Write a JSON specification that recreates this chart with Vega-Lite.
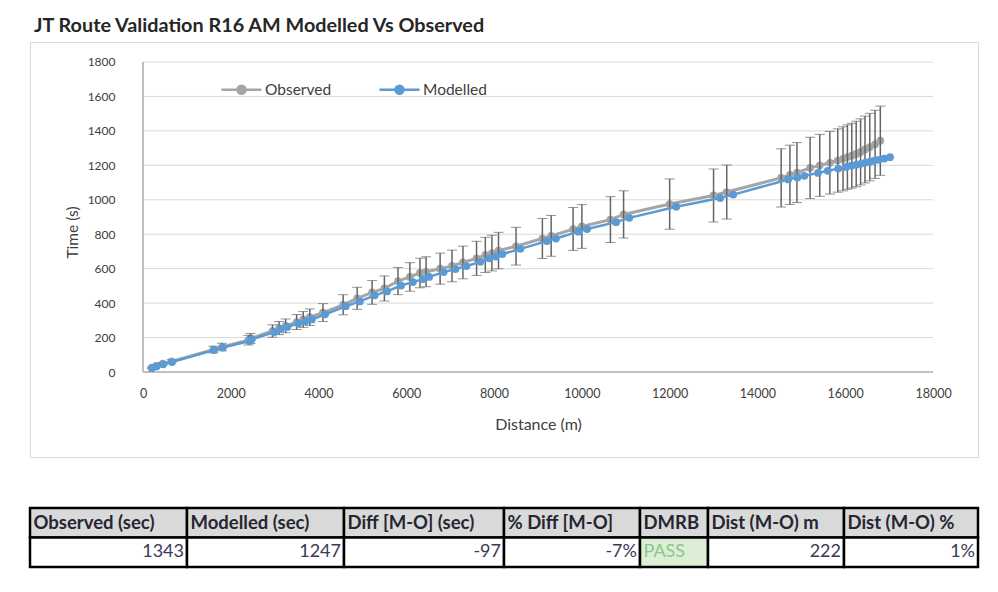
{
  "$schema": "https://vega.github.io/schema/vega-lite/v6.json",
  "padding": {"left": 28, "top": 15, "right": 5, "bottom": 5},
  "background": "#ffffff",
  "config": {"font": "Lato", "view": {"stroke": null}},
  "title": {
    "text": "JT Route Validation R16 AM Modelled Vs Observed",
    "anchor": "start",
    "frame": "group",
    "font": "Lato",
    "fontSize": 19.8,
    "fontWeight": "bold",
    "color": "#262626",
    "offset": 6,
    "dx": 4
  },
  "datasets": {
    "stops": [
      {"obs_d": 200, "obs_t": 25, "lo": 21, "hi": 29, "mod_d": 205, "mod_t": 22},
      {"obs_d": 300, "obs_t": 35, "lo": 30, "hi": 40, "mod_d": 305, "mod_t": 32},
      {"obs_d": 450, "obs_t": 48, "lo": 41, "hi": 55, "mod_d": 460, "mod_t": 45},
      {"obs_d": 650, "obs_t": 62, "lo": 53, "hi": 71, "mod_d": 660, "mod_t": 58},
      {"obs_d": 1600, "obs_t": 130, "lo": 111, "hi": 150, "mod_d": 1620, "mod_t": 128},
      {"obs_d": 1800, "obs_t": 145, "lo": 123, "hi": 167, "mod_d": 1820, "mod_t": 142},
      {"obs_d": 2400, "obs_t": 185, "lo": 157, "hi": 213, "mod_d": 2430, "mod_t": 180},
      {"obs_d": 2450, "obs_t": 195, "lo": 166, "hi": 224, "mod_d": 2480, "mod_t": 190},
      {"obs_d": 2950, "obs_t": 238, "lo": 202, "hi": 274, "mod_d": 2990, "mod_t": 232},
      {"obs_d": 3100, "obs_t": 255, "lo": 217, "hi": 293, "mod_d": 3140, "mod_t": 250},
      {"obs_d": 3250, "obs_t": 268, "lo": 228, "hi": 308, "mod_d": 3290, "mod_t": 262},
      {"obs_d": 3500, "obs_t": 290, "lo": 247, "hi": 334, "mod_d": 3540, "mod_t": 282},
      {"obs_d": 3650, "obs_t": 305, "lo": 259, "hi": 351, "mod_d": 3700, "mod_t": 295},
      {"obs_d": 3800, "obs_t": 318, "lo": 270, "hi": 366, "mod_d": 3850, "mod_t": 305},
      {"obs_d": 4100, "obs_t": 345, "lo": 293, "hi": 397, "mod_d": 4150, "mod_t": 335},
      {"obs_d": 4560, "obs_t": 390, "lo": 332, "hi": 449, "mod_d": 4620, "mod_t": 382},
      {"obs_d": 4880, "obs_t": 428, "lo": 364, "hi": 492, "mod_d": 4940, "mod_t": 410},
      {"obs_d": 5220, "obs_t": 462, "lo": 393, "hi": 531, "mod_d": 5280, "mod_t": 445},
      {"obs_d": 5500, "obs_t": 485, "lo": 412, "hi": 558, "mod_d": 5560, "mod_t": 468},
      {"obs_d": 5810, "obs_t": 528, "lo": 449, "hi": 607, "mod_d": 5880, "mod_t": 502},
      {"obs_d": 6080, "obs_t": 552, "lo": 469, "hi": 635, "mod_d": 6150, "mod_t": 522},
      {"obs_d": 6310, "obs_t": 575, "lo": 489, "hi": 661, "mod_d": 6380, "mod_t": 540},
      {"obs_d": 6450, "obs_t": 582, "lo": 495, "hi": 669, "mod_d": 6520, "mod_t": 552},
      {"obs_d": 6770, "obs_t": 600, "lo": 510, "hi": 690, "mod_d": 6850, "mod_t": 580},
      {"obs_d": 7040, "obs_t": 616, "lo": 524, "hi": 708, "mod_d": 7120, "mod_t": 598},
      {"obs_d": 7290, "obs_t": 636, "lo": 541, "hi": 731, "mod_d": 7370, "mod_t": 615},
      {"obs_d": 7600, "obs_t": 660, "lo": 561, "hi": 759, "mod_d": 7690, "mod_t": 640},
      {"obs_d": 7800, "obs_t": 680, "lo": 578, "hi": 782, "mod_d": 7890, "mod_t": 660},
      {"obs_d": 7950, "obs_t": 690, "lo": 587, "hi": 794, "mod_d": 8040, "mod_t": 670},
      {"obs_d": 8100, "obs_t": 705, "lo": 599, "hi": 811, "mod_d": 8190, "mod_t": 685},
      {"obs_d": 8500, "obs_t": 730, "lo": 621, "hi": 840, "mod_d": 8600, "mod_t": 715},
      {"obs_d": 9100, "obs_t": 775, "lo": 659, "hi": 891, "mod_d": 9200, "mod_t": 760},
      {"obs_d": 9300, "obs_t": 790, "lo": 672, "hi": 909, "mod_d": 9410, "mod_t": 775},
      {"obs_d": 9800, "obs_t": 830, "lo": 706, "hi": 955, "mod_d": 9920, "mod_t": 815},
      {"obs_d": 10000, "obs_t": 845, "lo": 718, "hi": 972, "mod_d": 10120, "mod_t": 830},
      {"obs_d": 10650, "obs_t": 885, "lo": 752, "hi": 1018, "mod_d": 10780, "mod_t": 870},
      {"obs_d": 10950, "obs_t": 915, "lo": 778, "hi": 1052, "mod_d": 11080, "mod_t": 895},
      {"obs_d": 12000, "obs_t": 975, "lo": 829, "hi": 1121, "mod_d": 12150, "mod_t": 960},
      {"obs_d": 13000, "obs_t": 1025, "lo": 871, "hi": 1179, "mod_d": 13150, "mod_t": 1010},
      {"obs_d": 13300, "obs_t": 1045, "lo": 888, "hi": 1202, "mod_d": 13450, "mod_t": 1030},
      {"obs_d": 14540, "obs_t": 1127, "lo": 958, "hi": 1296, "mod_d": 14700, "mod_t": 1118},
      {"obs_d": 14740, "obs_t": 1145, "lo": 973, "hi": 1317, "mod_d": 14910, "mod_t": 1130},
      {"obs_d": 14900, "obs_t": 1158, "lo": 984, "hi": 1332, "mod_d": 15070, "mod_t": 1139},
      {"obs_d": 15200, "obs_t": 1185, "lo": 1007, "hi": 1363, "mod_d": 15380, "mod_t": 1156},
      {"obs_d": 15420, "obs_t": 1200, "lo": 1020, "hi": 1380, "mod_d": 15600, "mod_t": 1168},
      {"obs_d": 15650, "obs_t": 1215, "lo": 1033, "hi": 1397, "mod_d": 15840, "mod_t": 1181},
      {"obs_d": 15830, "obs_t": 1228, "lo": 1044, "hi": 1412, "mod_d": 16020, "mod_t": 1191},
      {"obs_d": 15950, "obs_t": 1238, "lo": 1052, "hi": 1424, "mod_d": 16140, "mod_t": 1198},
      {"obs_d": 16050, "obs_t": 1248, "lo": 1061, "hi": 1435, "mod_d": 16250, "mod_t": 1204},
      {"obs_d": 16150, "obs_t": 1256, "lo": 1068, "hi": 1444, "mod_d": 16350, "mod_t": 1209},
      {"obs_d": 16250, "obs_t": 1266, "lo": 1076, "hi": 1456, "mod_d": 16450, "mod_t": 1215},
      {"obs_d": 16350, "obs_t": 1278, "lo": 1086, "hi": 1470, "mod_d": 16550, "mod_t": 1220},
      {"obs_d": 16450, "obs_t": 1292, "lo": 1098, "hi": 1486, "mod_d": 16650, "mod_t": 1226},
      {"obs_d": 16560, "obs_t": 1306, "lo": 1110, "hi": 1502, "mod_d": 16760, "mod_t": 1232},
      {"obs_d": 16680, "obs_t": 1322, "lo": 1124, "hi": 1520, "mod_d": 16890, "mod_t": 1239},
      {"obs_d": 16800, "obs_t": 1343, "lo": 1142, "hi": 1544, "mod_d": 17022, "mod_t": 1247}
    ],
    "grid": [
      {"t": 200}, {"t": 400}, {"t": 600}, {"t": 800}, {"t": 1000},
      {"t": 1200}, {"t": 1400}, {"t": 1600}, {"t": 1800}
    ],
    "table": [
      {"col": "Observed (sec)", "val": "1343"},
      {"col": "Modelled (sec)", "val": "1247"},
      {"col": "Diff [M-O] (sec)", "val": "-97"},
      {"col": "% Diff [M-O]", "val": "-7%"},
      {"col": "DMRB", "val": "PASS"},
      {"col": "Dist (M-O) m", "val": "222"},
      {"col": "Dist (M-O) %", "val": "1%"}
    ]
  },
  "bounds": "flush",
  "spacing": 51,
  "vconcat": [
    {
      "width": 948,
      "height": 415,
      "view": {"stroke": "#d9d9d9", "strokeWidth": 1},
      "data": {"name": "stops"},
      "layer": [
        {
          "data": {"name": "grid"},
          "mark": {"type": "rule", "color": "#d9d9d9", "strokeWidth": 1},
          "encoding": {
            "y": {"field": "t", "type": "quantitative"},
            "x": {"datum": 0, "type": "quantitative"},
            "x2": {"datum": 18000}
          }
        },
        {
          "mark": {"type": "rule", "color": "#bfbfbf", "strokeWidth": 1.5},
          "encoding": {
            "x": {"datum": 0, "type": "quantitative"},
            "y": {"datum": 0, "type": "quantitative"},
            "y2": {"datum": 1800}
          }
        },
        {
          "mark": {"type": "rule", "color": "#bfbfbf", "strokeWidth": 1.5},
          "encoding": {
            "y": {"datum": 0, "type": "quantitative"},
            "x": {"datum": 0, "type": "quantitative"},
            "x2": {"datum": 18000}
          }
        },
        {
          "mark": {"type": "line", "strokeWidth": 3},
          "encoding": {
            "x": {
              "field": "obs_d",
              "type": "quantitative",
              "title": "Distance (m)",
              "scale": {"domain": [-2574.7, 19025.3], "nice": false, "zero": false},
              "axis": {
                "title": "Distance (m)",
                "orient": "bottom",
                "offset": -85,
                "values": [0, 2000, 4000, 6000, 8000, 10000, 12000, 14000, 16000, 18000],
                "format": "d",
                "domain": false,
                "ticks": false,
                "grid": false,
                "labelPadding": 15,
                "labelFontSize": 12.5,
                "labelColor": "#404040",
                "labelFlush": false,
                "titleFontSize": 16,
                "titleFontWeight": "normal",
                "titleColor": "#404040",
                "titleX": 508,
                "titleY": 52,
                "titleBaseline": "middle"
              }
            },
            "y": {
              "field": "obs_t",
              "type": "quantitative",
              "title": "Time (s)",
              "scale": {"domain": [-493.5, 1916.1], "nice": false, "zero": false},
              "axis": {
                "title": "Time (s)",
                "orient": "left",
                "offset": -113,
                "values": [0, 200, 400, 600, 800, 1000, 1200, 1400, 1600, 1800],
                "format": "d",
                "domain": false,
                "ticks": false,
                "grid": false,
                "labelPadding": 28,
                "labelFontSize": 12,
                "labelColor": "#404040",
                "labelFlush": false,
                "titleFontSize": 15.5,
                "titleFontWeight": "normal",
                "titleColor": "#404040",
                "titleX": -71,
                "titleY": 190,
                "titleBaseline": "middle"
              }
            },
            "color": {
              "datum": "Observed",
              "type": "nominal",
              "scale": {"domain": ["Observed", "Modelled"], "range": ["#a5a5a5", "#5b9bd5"]},
              "legend": {
                "orient": "none",
                "legendX": 190,
                "legendY": 26,
                "direction": "horizontal",
                "title": null,
                "symbolType": "M-1,0H1M0.2,0A0.2,0.2,0,1,1,-0.2,0A0.2,0.2,0,1,1,0.2,0Z",
                "symbolSize": 1600,
                "symbolStrokeWidth": 2.5,
                "labelFontSize": 15.5,
                "labelColor": "#404040",
                "labelOffset": 2,
                "columnPadding": 42,
                "encode": {
                  "symbols": {
                    "update": {
                      "fill": {"scale": "color", "field": "value"},
                      "stroke": {"scale": "color", "field": "value"},
                      "strokeWidth": {"value": 2.5},
                      "opacity": {"value": 1}
                    }
                  }
                }
              }
            }
          }
        },
        {
          "mark": {"type": "point", "filled": true, "opacity": 1, "size": 60},
          "encoding": {
            "x": {"field": "obs_d", "type": "quantitative"},
            "y": {"field": "obs_t", "type": "quantitative", "title": "Time (s)"},
            "color": {"datum": "Observed", "type": "nominal"}
          }
        },
        {
          "mark": {
            "type": "errorbar",
            "ticks": {"size": 10, "color": "#656565", "strokeWidth": 1.5},
            "rule": {"color": "#656565", "strokeWidth": 1.5}
          },
          "encoding": {
            "x": {"field": "obs_d", "type": "quantitative"},
            "y": {"field": "lo", "type": "quantitative", "title": "Time (s)"},
            "y2": {"field": "hi"}
          }
        },
        {
          "mark": {"type": "line", "strokeWidth": 2.5},
          "encoding": {
            "x": {"field": "mod_d", "type": "quantitative", "title": "Distance (m)"},
            "y": {"field": "mod_t", "type": "quantitative", "title": "Time (s)"},
            "color": {"datum": "Modelled", "type": "nominal"}
          }
        },
        {
          "mark": {"type": "point", "filled": true, "opacity": 1, "size": 60},
          "encoding": {
            "x": {"field": "mod_d", "type": "quantitative", "title": "Distance (m)"},
            "y": {"field": "mod_t", "type": "quantitative", "title": "Time (s)"},
            "color": {"datum": "Modelled", "type": "nominal"}
          }
        }
      ]
    },
    {
      "spacing": 0,
      "bounds": "flush",
      "data": {"name": "table"},
      "hconcat": [
        {
          "width": 157, "height": 59,
          "transform": [{"filter": "datum.col === 'Observed (sec)'"}, {"fold": ["col", "val"], "as": ["part", "text"]}],
          "encoding": {"y": {"field": "part", "type": "nominal", "sort": ["col", "val"], "scale": {"paddingInner": 0, "paddingOuter": 0}, "axis": null}},
          "layer": [
            {"mark": {"type": "rect", "stroke": "#000000", "strokeWidth": 2.5},
             "encoding": {"fill": {"condition": {"test": "datum.part === 'col'", "value": "#d9d9d9"}, "value": "#ffffff"}}},
            {"transform": [{"filter": "datum.part === 'col'"}],
             "mark": {"type": "text", "align": "left", "dx": -75, "fontSize": 18.5, "fontWeight": "bold", "color": "#262633"},
             "encoding": {"text": {"field": "text"}}},
            {"transform": [{"filter": "datum.part === 'val'"}],
             "mark": {"type": "text", "align": "right", "dx": 75.5, "fontSize": 18, "color": "#3a3a55"},
             "encoding": {"text": {"field": "text"}}}
          ]
        },
        {
          "width": 157, "height": 59,
          "transform": [{"filter": "datum.col === 'Modelled (sec)'"}, {"fold": ["col", "val"], "as": ["part", "text"]}],
          "encoding": {"y": {"field": "part", "type": "nominal", "sort": ["col", "val"], "scale": {"paddingInner": 0, "paddingOuter": 0}, "axis": null}},
          "layer": [
            {"mark": {"type": "rect", "stroke": "#000000", "strokeWidth": 2.5},
             "encoding": {"fill": {"condition": {"test": "datum.part === 'col'", "value": "#d9d9d9"}, "value": "#ffffff"}}},
            {"transform": [{"filter": "datum.part === 'col'"}],
             "mark": {"type": "text", "align": "left", "dx": -75, "fontSize": 18.5, "fontWeight": "bold", "color": "#262633"},
             "encoding": {"text": {"field": "text"}}},
            {"transform": [{"filter": "datum.part === 'val'"}],
             "mark": {"type": "text", "align": "right", "dx": 75.5, "fontSize": 18, "color": "#3a3a55"},
             "encoding": {"text": {"field": "text"}}}
          ]
        },
        {
          "width": 160, "height": 59,
          "transform": [{"filter": "datum.col === 'Diff [M-O] (sec)'"}, {"fold": ["col", "val"], "as": ["part", "text"]}],
          "encoding": {"y": {"field": "part", "type": "nominal", "sort": ["col", "val"], "scale": {"paddingInner": 0, "paddingOuter": 0}, "axis": null}},
          "layer": [
            {"mark": {"type": "rect", "stroke": "#000000", "strokeWidth": 2.5},
             "encoding": {"fill": {"condition": {"test": "datum.part === 'col'", "value": "#d9d9d9"}, "value": "#ffffff"}}},
            {"transform": [{"filter": "datum.part === 'col'"}],
             "mark": {"type": "text", "align": "left", "dx": -76.5, "fontSize": 18.5, "fontWeight": "bold", "color": "#262633"},
             "encoding": {"text": {"field": "text"}}},
            {"transform": [{"filter": "datum.part === 'val'"}],
             "mark": {"type": "text", "align": "right", "dx": 77, "fontSize": 18, "color": "#3a3a55"},
             "encoding": {"text": {"field": "text"}}}
          ]
        },
        {
          "width": 136, "height": 59,
          "transform": [{"filter": "datum.col === '% Diff [M-O]'"}, {"fold": ["col", "val"], "as": ["part", "text"]}],
          "encoding": {"y": {"field": "part", "type": "nominal", "sort": ["col", "val"], "scale": {"paddingInner": 0, "paddingOuter": 0}, "axis": null}},
          "layer": [
            {"mark": {"type": "rect", "stroke": "#000000", "strokeWidth": 2.5},
             "encoding": {"fill": {"condition": {"test": "datum.part === 'col'", "value": "#d9d9d9"}, "value": "#ffffff"}}},
            {"transform": [{"filter": "datum.part === 'col'"}],
             "mark": {"type": "text", "align": "left", "dx": -64.5, "fontSize": 18.5, "fontWeight": "bold", "color": "#262633"},
             "encoding": {"text": {"field": "text"}}},
            {"transform": [{"filter": "datum.part === 'val'"}],
             "mark": {"type": "text", "align": "right", "dx": 65, "fontSize": 18, "color": "#3a3a55"},
             "encoding": {"text": {"field": "text"}}}
          ]
        },
        {
          "width": 68, "height": 59,
          "transform": [{"filter": "datum.col === 'DMRB'"}, {"fold": ["col", "val"], "as": ["part", "text"]}],
          "encoding": {"y": {"field": "part", "type": "nominal", "sort": ["col", "val"], "scale": {"paddingInner": 0, "paddingOuter": 0}, "axis": null}},
          "layer": [
            {"mark": {"type": "rect", "stroke": "#000000", "strokeWidth": 2.5},
             "encoding": {"fill": {"condition": {"test": "datum.part === 'col'", "value": "#d9d9d9"}, "value": "#dcefd6"}}},
            {"transform": [{"filter": "datum.part === 'col'"}],
             "mark": {"type": "text", "align": "left", "dx": -30.5, "fontSize": 18.5, "fontWeight": "bold", "color": "#262633"},
             "encoding": {"text": {"field": "text"}}},
            {"transform": [{"filter": "datum.part === 'val'"}],
             "mark": {"type": "text", "align": "left", "dx": -30.5, "fontSize": 18, "color": "#8cc68a"},
             "encoding": {"text": {"field": "text"}}}
          ]
        },
        {
          "width": 136, "height": 59,
          "transform": [{"filter": "datum.col === 'Dist (M-O) m'"}, {"fold": ["col", "val"], "as": ["part", "text"]}],
          "encoding": {"y": {"field": "part", "type": "nominal", "sort": ["col", "val"], "scale": {"paddingInner": 0, "paddingOuter": 0}, "axis": null}},
          "layer": [
            {"mark": {"type": "rect", "stroke": "#000000", "strokeWidth": 2.5},
             "encoding": {"fill": {"condition": {"test": "datum.part === 'col'", "value": "#d9d9d9"}, "value": "#ffffff"}}},
            {"transform": [{"filter": "datum.part === 'col'"}],
             "mark": {"type": "text", "align": "left", "dx": -64.5, "fontSize": 18.5, "fontWeight": "bold", "color": "#262633"},
             "encoding": {"text": {"field": "text"}}},
            {"transform": [{"filter": "datum.part === 'val'"}],
             "mark": {"type": "text", "align": "right", "dx": 65, "fontSize": 18, "color": "#3a3a55"},
             "encoding": {"text": {"field": "text"}}}
          ]
        },
        {
          "width": 134, "height": 59,
          "transform": [{"filter": "datum.col === 'Dist (M-O) %'"}, {"fold": ["col", "val"], "as": ["part", "text"]}],
          "encoding": {"y": {"field": "part", "type": "nominal", "sort": ["col", "val"], "scale": {"paddingInner": 0, "paddingOuter": 0}, "axis": null}},
          "layer": [
            {"mark": {"type": "rect", "stroke": "#000000", "strokeWidth": 2.5},
             "encoding": {"fill": {"condition": {"test": "datum.part === 'col'", "value": "#d9d9d9"}, "value": "#ffffff"}}},
            {"transform": [{"filter": "datum.part === 'col'"}],
             "mark": {"type": "text", "align": "left", "dx": -63.5, "fontSize": 18.5, "fontWeight": "bold", "color": "#262633"},
             "encoding": {"text": {"field": "text"}}},
            {"transform": [{"filter": "datum.part === 'val'"}],
             "mark": {"type": "text", "align": "right", "dx": 64, "fontSize": 18, "color": "#3a3a55"},
             "encoding": {"text": {"field": "text"}}}
          ]
        }
      ]
    }
  ]
}
